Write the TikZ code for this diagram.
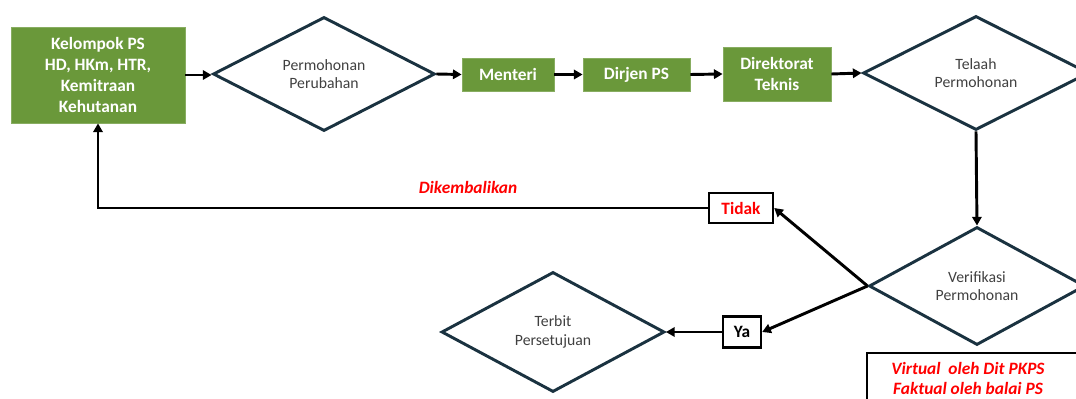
\documentclass[tikz,border=0pt]{standalone}
\usepackage{fontspec}
\setmainfont{Carlito}
\usetikzlibrary{shapes.geometric,arrows.meta}
\definecolor{boxgreen}{RGB}{106,152,58}
\definecolor{dline}{RGB}{26,50,64}
\definecolor{dtext}{RGB}{64,64,64}
\definecolor{lred}{RGB}{255,0,0}
\tikzset{
  gbox/.style={rectangle, fill=boxgreen, draw=boxgreen!80!white, line width=0.6pt,
    text=white, align=center, inner sep=0pt, font=\bfseries\fontsize{13}{15.8}\selectfont},
  dia/.style={diamond, draw=dline, line width=2.2pt, shape aspect=2, inner sep=0pt,
    align=center, text=dtext, font=\fontsize{11.8}{14}\selectfont},
  arr/.style={line width=2.2pt, -{Triangle[length=6.5pt,width=7pt]}},
  lbox/.style={rectangle, draw=black, line width=1.8pt, fill=white, inner sep=0pt,
    font=\bfseries\fontsize{13}{15.6}\selectfont},
  redtext/.style={text=lred, font=\bfseries\itshape\fontsize{13}{15}\selectfont, align=center}
}
\begin{document}
\begin{tikzpicture}[x=0.75pt,y=-0.75pt]
\useasboundingbox (0,0) rectangle (1076,399);
\clip (0,0) rectangle (1076,399);

% green boxes
\node[gbox, minimum width=174*0.75pt, minimum height=96*0.75pt] (kel) at (98,75)
  {Kelompok PS\\HD, HKm, HTR,\\Kemitraan\\Kehutanan};
\node[gbox, minimum width=92*0.75pt, minimum height=33*0.75pt] (men) at (508,74.5) {Menteri};
\node[gbox, minimum width=107*0.75pt, minimum height=33*0.75pt] (dir) at (636.5,74.5) {Dirjen PS};
\node[gbox, minimum width=108*0.75pt, minimum height=54*0.75pt] (dtek) at (777,74) {Direktorat\\Teknis};

% diamonds
\node[dia, minimum width=222*0.75pt, minimum height=114*0.75pt] (perm) at (324,74) {Permohonan\\Perubahan};
\node[dia, minimum width=226*0.75pt, minimum height=114*0.75pt] (tel) at (976,73) {Telaah\\Permohonan};
\node[dia, minimum width=216*0.75pt, minimum height=118*0.75pt] (ver) at (977,286) {Verifikasi\\Permohonan};
\node[dia, minimum width=223*0.75pt, minimum height=120*0.75pt] (ter) at (553,332) {Terbit\\Persetujuan};

% decision labels
\node[lbox, text=lred, minimum width=64*0.75pt, minimum height=30*0.75pt] (tidak) at (741,208) {Tidak};
\node[lbox, text=black, minimum width=38*0.75pt, minimum height=31*0.75pt] (ya) at (742,332) {Ya};

% return label
\node[redtext] (kemb) at (468,187) {Dikembalikan};

% note box
\coordinate (nbA) at (867,353);
\coordinate (nbB) at (1090,420);
\draw[line width=1.8pt] (nbA) rectangle (nbB);
\node[redtext] (note) at (968,378)
  {Virtual\ \ oleh Dit PKPS\\Faktual oleh balai PS};

% connectors
\draw[arr] (kel.east) -- (kel.east -| perm.west);
\draw[arr] (perm.east) -- (men.west);
\draw[arr] (men.east) -- (dir.west);
\draw[arr] (dir.east) -- (dtek.west);
\draw[arr] (dtek.east) -- (tel.west);
\draw[arr] (tel.south) -- (ver.north);
\draw[arr] (ver.west) -- (tidak.east);
\draw[arr] (ver.west) -- (ya.east);
\draw[arr] (ya.west) -- (ter.east);
\draw[arr] (tidak.west) -| (kel.south);
\end{tikzpicture}
\end{document}
